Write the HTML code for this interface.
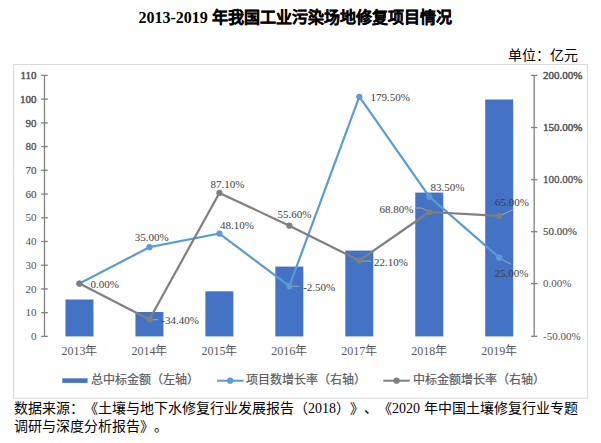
<!DOCTYPE html>
<html lang="zh-CN"><head><meta charset="utf-8"><style>
html,body{margin:0;padding:0;background:#fff;width:601px;height:443px;overflow:hidden}
svg{display:block}
text{text-spacing-trim:space-all}
*{text-spacing-trim:space-all}
</style></head><body>
<svg width="601" height="443" viewBox="0 0 601 443">
<rect x="13.6" y="64.6" width="573.8" height="333.6" fill="#fff" stroke="#d9d9d9" stroke-width="1"/>
<rect x="65.48" y="299.50" width="28" height="36.90" fill="#4472c4"/>
<rect x="135.44" y="312.00" width="28" height="24.40" fill="#4472c4"/>
<rect x="205.39" y="291.30" width="28" height="45.10" fill="#4472c4"/>
<rect x="275.35" y="266.60" width="28" height="69.80" fill="#4472c4"/>
<rect x="345.31" y="250.60" width="28" height="85.80" fill="#4472c4"/>
<rect x="415.26" y="192.60" width="28" height="143.80" fill="#4472c4"/>
<rect x="485.22" y="99.50" width="28" height="236.90" fill="#4472c4"/>
<g stroke="#808080" stroke-width="1.3" fill="none">
<line x1="44.5" y1="75.4" x2="44.5" y2="336.4"/>
<line x1="534.2" y1="75.4" x2="534.2" y2="336.4"/>
<line x1="41.20" y1="336.40" x2="47.80" y2="336.40"/>
<line x1="41.20" y1="312.67" x2="47.80" y2="312.67"/>
<line x1="41.20" y1="288.95" x2="47.80" y2="288.95"/>
<line x1="41.20" y1="265.22" x2="47.80" y2="265.22"/>
<line x1="41.20" y1="241.49" x2="47.80" y2="241.49"/>
<line x1="41.20" y1="217.76" x2="47.80" y2="217.76"/>
<line x1="41.20" y1="194.04" x2="47.80" y2="194.04"/>
<line x1="41.20" y1="170.31" x2="47.80" y2="170.31"/>
<line x1="41.20" y1="146.58" x2="47.80" y2="146.58"/>
<line x1="41.20" y1="122.85" x2="47.80" y2="122.85"/>
<line x1="41.20" y1="99.13" x2="47.80" y2="99.13"/>
<line x1="41.20" y1="75.40" x2="47.80" y2="75.40"/>
<line x1="531.00" y1="336.30" x2="537.40" y2="336.30"/>
<line x1="531.00" y1="283.60" x2="537.40" y2="283.60"/>
<line x1="531.00" y1="231.70" x2="537.40" y2="231.70"/>
<line x1="531.00" y1="179.70" x2="537.40" y2="179.70"/>
<line x1="531.00" y1="127.50" x2="537.40" y2="127.50"/>
<line x1="531.00" y1="75.40" x2="537.40" y2="75.40"/>
</g>
<g font-family="Liberation Serif" font-size="11" fill="#505050">
<text x="36.5" y="340.10" text-anchor="end">0</text>
<text x="36.5" y="316.37" text-anchor="end">10</text>
<text x="36.5" y="292.65" text-anchor="end">20</text>
<text x="36.5" y="268.92" text-anchor="end">30</text>
<text x="36.5" y="245.19" text-anchor="end">40</text>
<text x="36.5" y="221.46" text-anchor="end">50</text>
<text x="36.5" y="197.74" text-anchor="end" stroke="#505050" stroke-width="0.15">60</text>
<text x="36.5" y="174.01" text-anchor="end" stroke="#505050" stroke-width="0.2">70</text>
<text x="36.5" y="150.28" text-anchor="end" stroke="#505050" stroke-width="0.3">80</text>
<text x="36.5" y="126.55" text-anchor="end" stroke="#505050" stroke-width="0.35">90</text>
<text x="36.5" y="102.83" text-anchor="end" stroke="#505050" stroke-width="0.45">100</text>
<text x="36.5" y="79.10" text-anchor="end" stroke="#505050" stroke-width="0.45">110</text>
<text x="543" y="340.00">-50.00%</text>
<text x="543" y="287.30">0.00%</text>
<text x="543" y="235.40" stroke="#505050" stroke-width="0.2">50.00%</text>
<text x="543" y="183.40" stroke="#505050" stroke-width="0.3">100.00%</text>
<text x="543" y="131.20" stroke="#505050" stroke-width="0.45">150.00%</text>
<text x="543" y="79.10" stroke="#505050" stroke-width="0.45">200.00%</text>
</g>
<g font-family="Liberation Serif" font-size="12" fill="#595959" text-anchor="middle">
<text x="79.48" y="355">2013年</text>
<text x="149.44" y="355">2014年</text>
<text x="219.39" y="355">2015年</text>
<text x="289.35" y="355">2016年</text>
<text x="359.31" y="355">2017年</text>
<text x="429.26" y="355">2018年</text>
<text x="499.22" y="355">2019年</text>
</g>
<g stroke="#a6a6a6" stroke-width="1" fill="none">
<path d="M151,319.7 H158.3"/>
<path d="M291,286.3 H299.5"/>
<path d="M361,261.1 H371"/>
<path d="M416,208 H421.5 L429.3,211.8"/>
<path d="M499.2,216.3 L513.5,209.4"/>
<path d="M499.2,258.1 L511,264.1"/>
</g>
<polyline points="79.48,283.60 149.44,247.17 219.39,233.53 289.35,286.20 359.31,96.74 429.26,196.68 499.22,257.58" fill="none" stroke="#5b9bd5" stroke-width="2.2" stroke-linejoin="round"/>
<circle cx="79.48" cy="283.60" r="3.1" fill="#5b9bd5"/>
<circle cx="149.44" cy="247.17" r="3.1" fill="#5b9bd5"/>
<circle cx="219.39" cy="233.53" r="3.1" fill="#5b9bd5"/>
<circle cx="289.35" cy="286.20" r="3.1" fill="#5b9bd5"/>
<circle cx="359.31" cy="96.74" r="3.1" fill="#5b9bd5"/>
<circle cx="429.26" cy="196.68" r="3.1" fill="#5b9bd5"/>
<circle cx="499.22" cy="257.58" r="3.1" fill="#5b9bd5"/>
<polyline points="79.48,283.60 149.44,319.41 219.39,192.93 289.35,225.72 359.31,260.59 429.26,211.98 499.22,215.94" fill="none" stroke="#7f7f7f" stroke-width="2.2" stroke-linejoin="round"/>
<circle cx="79.48" cy="283.60" r="3.1" fill="#7f7f7f"/>
<circle cx="149.44" cy="319.41" r="3.1" fill="#7f7f7f"/>
<circle cx="219.39" cy="192.93" r="3.1" fill="#7f7f7f"/>
<circle cx="289.35" cy="225.72" r="3.1" fill="#7f7f7f"/>
<circle cx="359.31" cy="260.59" r="3.1" fill="#7f7f7f"/>
<circle cx="429.26" cy="211.98" r="3.1" fill="#7f7f7f"/>
<circle cx="499.22" cy="215.94" r="3.1" fill="#7f7f7f"/>
<g font-family="Liberation Serif" font-size="11" fill="#404040">
<text x="90.50" y="288.40">0.00%</text>
<text x="134.80" y="241.30">35.00%</text>
<text x="220.10" y="229.40">48.10%</text>
<text x="210.50" y="188.30">87.10%</text>
<text x="277.60" y="217.80">55.60%</text>
<text x="161.30" y="324.20">-34.40%</text>
<text x="303.20" y="291.10">-2.50%</text>
<text x="374.10" y="265.60">22.10%</text>
<text x="370.60" y="101.20">179.50%</text>
<text x="430.60" y="191.30">83.50%</text>
<text x="379.50" y="212.70">68.80%</text>
<text x="494.90" y="206.40">65.00%</text>
<text x="494.50" y="277.00">25.00%</text>
</g>
<rect x="62.3" y="378.3" width="25.3" height="4.6" fill="#4472c4"/>
<line x1="217" y1="380.7" x2="243.6" y2="380.7" stroke="#5b9bd5" stroke-width="2"/><circle cx="230.2" cy="380.7" r="3.1" fill="#5b9bd5"/>
<line x1="383.3" y1="380.7" x2="409.7" y2="380.7" stroke="#7f7f7f" stroke-width="2"/><circle cx="396.6" cy="380.7" r="3.1" fill="#7f7f7f"/>
<g font-family="Liberation Serif" font-size="12" fill="#595959" stroke="#595959" stroke-width="0.2">
<text x="91" y="384.3">总中标金额（左轴）</text>
<text x="246" y="384.3">项目数增长率（右轴）</text>
<text x="413" y="384.3">中标金额增长率（右轴）</text>
</g>
<text x="138.5" y="23" font-family="Liberation Serif" font-size="16" font-weight="bold" fill="#000">2013-2019 <tspan stroke="#000" stroke-width="0.25">年我国工业污染场地修复项目情况</tspan></text>
<text x="577.5" y="59.5" font-family="Liberation Serif" font-size="14" fill="#000" text-anchor="end">单位：亿元</text>
<text x="14" y="412.6" font-family="Liberation Serif" font-size="14" fill="#000">数据来源：《土壤与地下水修复行业发展报告（2018）》、《2020 年中国土壤修复行业专题</text>
<text x="14" y="431" font-family="Liberation Serif" font-size="14" fill="#000">调研与深度分析报告》。</text>
</svg>
</body></html>
